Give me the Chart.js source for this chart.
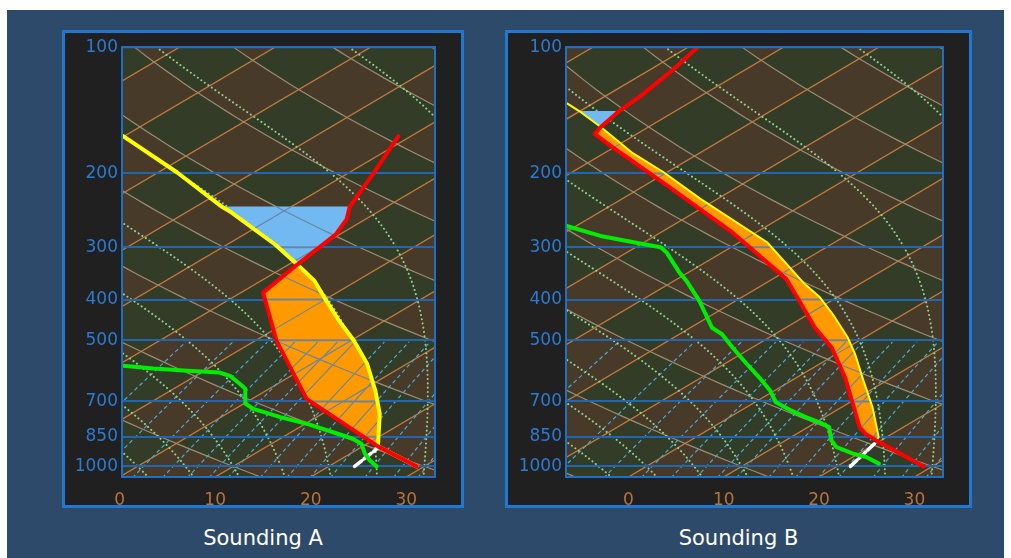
<!DOCTYPE html>
<html>
<head>
<meta charset="utf-8">
<script src="https://cdn.jsdelivr.net/npm/chart.js@4.4.1/dist/chart.umd.min.js"></script>
<style>
  html, body { margin: 0; padding: 0; background: #fff; }
  #bg { position: absolute; left: 7px; top: 10px; width: 997px; height: 548px; background: #2e4a6a; }
  .panel { position: absolute; top: 30px; height: 472px; border: 3px solid #1f78d2; background: #202020; }
  #pA { left: 62px; width: 396px; }
  #pB { left: 505px; width: 461px; }
  .panel canvas { position: absolute; left: 0; top: 0; }
  .title { position: absolute; top: 526px; text-align: center; color: #fff; font: 21px "DejaVu Sans", sans-serif; }
</style>
</head>
<body>
<div id="bg"></div>
<div class="panel" id="pA"><canvas id="chartA" width="396" height="472"></canvas></div>
<div class="panel" id="pB"><canvas id="chartB" width="461" height="472"></canvas></div>
<div class="title" style="left:62px;width:402px">Sounding A</div>
<div class="title" style="left:505px;width:467px">Sounding B</div>
<script>
// axis ticks
const tickPressures = [100, 200, 300, 400, 500, 700, 850, 1000];
const tickTemps = [0, 10, 20, 30];

// Sounding A (pressure hPa, temperature C)
const envPresA = [1000, 896, 690, 501, 385, 330, 280, 257, 240, 199, 163];
const envTempA = [29.2, 21.6, 5.7, -7.8, -17.7, -19.1, -20.4, -22.0, -23.9, -27.4, -31.3];
const parcelPresA = [1000, 896, 749, 659, 569, 501, 450, 403, 361, 330, 296, 248, 240, 199, 163];
const parcelTempA = [29.2, 21.6, 16.0, 11.4, 5.8, 0.3, -4.7, -9.6, -14.4, -19.1, -24.9, -35.2, -37.3, -48.0, -60.1];
const dewPresA = [1000, 967, 932, 883, 859, 829, 791, 763, 729, 709, 653, 636, 608, 597, 591, 584, 575];
const dewTempA = [25.0, 23.2, 21.5, 19.4, 17.6, 14.4, 10.1, 6.2, 1.9, 0.2, -2.5, -3.9, -6.4, -8.1, -11.8, -15.7, -19.4];
const mixPresA = [1000, 905];
const mixTempA = [22.7, 21.9];
const lclA = 896, crossA = 330, capA = 240;

// Sounding B
const envPresB = [1000, 867, 836, 806, 697, 614, 521, 467, 403, 357, 277, 214, 172, 161, 155, 142, 131, 113, 100];
const envTempB = [29.1, 19.5, 17.2, 15.4, 9.9, 5.1, -1.6, -6.9, -13.3, -18.6, -32.4, -47.6, -60.6, -64.4, -65.0, -65.9, -66.3, -67.6, -69.0];
const parcelPresB = [1000, 867, 852, 722, 625, 540, 492, 433, 395, 364, 292, 230, 199, 179, 155, 142, 136];
const parcelTempB = [29.1, 19.5, 19.2, 13.2, 7.6, 2.0, -1.8, -7.5, -11.8, -16.2, -27.1, -41.8, -50.3, -57.0, -65.0, -70.1, -72.8];
const dewPresB = [985, 950, 932, 899, 867, 806, 791, 763, 734, 703, 659, 614, 569, 521, 484, 467, 403, 361, 345, 309, 300, 292, 282, 267];
const dewTempB = [23.9, 21.4, 19.4, 16.5, 14.8, 12.2, 10.9, 8.0, 5.1, 2.2, -0.5, -3.9, -7.7, -12.0, -15.5, -17.7, -23.8, -28.7, -30.9, -35.8, -37.4, -41.1, -45.7, -51.0];
const mixPresB = [1000, 875];
const mixTempB = [21.4, 19.8];
const lclB = 867, crossB = 155, capB = 142;

// skew-T geometry
const SKEW = 32.3;      // x shift in C per unit of ln(p)
const PBASE = 1060;     // pressure at bottom edge
const KAPPA = 0.2857;

const GREEN = [51, 60, 38];
const BROWN = [72, 58, 41];

function skewX(t, p) { return t + SKEW * Math.log(PBASE / p); }

function toPoints(pres, temp) {
  return pres.map((p, i) => ({ x: skewX(temp[i], p), y: p }));
}

// closed area between parcel and environment between two levels
function areaPoints(pp, pt, ep, et, pLow, pHigh) {
  const side1 = [], side2 = [];
  pp.forEach((p, i) => { if (p <= pLow && p >= pHigh) side1.push({ x: skewX(pt[i], p), y: p }); });
  ep.forEach((p, i) => { if (p <= pLow && p >= pHigh) side2.push({ x: skewX(et[i], p), y: p }); });
  return side1.concat(side2.reverse());
}

// background reference lines (isotherms, adiabats, mixing ratio)
function satVap(tc) { return 6.112 * Math.exp(17.67 * tc / (tc + 243.5)); }

function moistRate(T, p) {
  const eps = 0.622, Rd = 287.04, cp = 1005.7, Lv = 2.501e6;
  const es = satVap(T - 273.15);
  const rs = eps * es / (p - es);
  return (Rd * T + Lv * rs) / (cp + Lv * Lv * rs * eps / (Rd * T * T)) / p;
}

function moistLine(tw) {
  const up = [];
  let T = tw + 273.15;
  for (let p = 1000; p >= 95; p -= 5) {
    up.push([T - 273.15, p]);
    const k1 = moistRate(T, p);
    const k2 = moistRate(T - 2.5 * k1, p - 2.5);
    T -= 5 * k2;
  }
  const down = [];
  T = tw + 273.15;
  for (let p = 1000; p <= 1065; p += 5) {
    down.push([T - 273.15, p]);
    T += 5 * moistRate(T, p);
  }
  return down.reverse().concat(up);
}

function buildRefLines() {
  const iso = [], dry = [], moist = [], mix = [];
  for (let t = -140; t <= 40; t += 10) iso.push([[t, 1065], [t, 95]]);
  for (let th = -50; th <= 250; th += 20) {
    const line = [];
    for (let p = 1065; p >= 95; p *= 0.97) line.push([(th + 273.15) * Math.pow(p / 1000, KAPPA) - 273.15, p]);
    dry.push(line);
  }
  for (let tw = -15; tw <= 40; tw += 5) moist.push(moistLine(tw));
  [1, 2, 3, 4, 5, 6, 7, 8, 10, 12, 14, 16, 20, 24, 28, 32].forEach(r => {
    const line = [];
    for (let p = 1065; p >= 500; p -= 10) {
      const e = (r / 1000) * p / (0.622 + r / 1000);
      const l = Math.log(e / 6.112);
      line.push([243.5 * l / (17.67 - l), p]);
    }
    mix.push(line);
  });
  return { iso, dry, moist, mix };
}

const ref = buildRefLines();

function strokeCurves(ctx, chart, curves) {
  const xs = chart.scales.x, ys = chart.scales.y;
  curves.forEach(c => {
    ctx.beginPath();
    c.forEach(([t, p], i) => {
      const px = xs.getPixelForValue(skewX(t, p)), py = ys.getPixelForValue(p);
      if (i) ctx.lineTo(px, py); else ctx.moveTo(px, py);
    });
    ctx.stroke();
  });
}

const skewPlugin = {
  id: 'skewBackground',
  beforeDraw(chart) {
    const { ctx, chartArea: a } = chart;
    const xs = chart.scales.x, ys = chart.scales.y;
    const x0 = Math.round(a.left), y0 = Math.round(a.top);
    const w = Math.round(a.right) - x0, h = Math.round(a.bottom) - y0;
    const img = ctx.createImageData(w, h);
    const colX = [];
    for (let i = 0; i < w; i++) colX.push(xs.getValueForPixel(x0 + i + 0.5));
    for (let j = 0; j < h; j++) {
      const p = ys.getValueForPixel(y0 + j + 0.5);
      const sk = SKEW * Math.log(PBASE / p), fac = Math.pow(1000 / p, KAPPA);
      for (let i = 0; i < w; i++) {
        const t = colX[i] - sk;
        const th = (t + 273.15) * fac - 273.15;
        const k = Math.floor(t / 10) + Math.floor((th - 10) / 20);
        const c = (k & 1) ? BROWN : GREEN;
        const o = (j * w + i) * 4;
        img.data[o] = c[0]; img.data[o + 1] = c[1]; img.data[o + 2] = c[2]; img.data[o + 3] = 255;
      }
    }
    ctx.putImageData(img, x0, y0);

    ctx.save();
    ctx.beginPath();
    ctx.rect(a.left, a.top, a.right - a.left, a.bottom - a.top);
    ctx.clip();
    ctx.lineWidth = 1.3;
    ctx.strokeStyle = '#c27a3e';
    strokeCurves(ctx, chart, ref.iso);
    ctx.lineWidth = 1.2;
    ctx.strokeStyle = '#9c8c72';
    strokeCurves(ctx, chart, ref.dry);
    ctx.lineWidth = 1.2;
    ctx.strokeStyle = '#49a9d6';
    ctx.setLineDash([4, 3]);
    strokeCurves(ctx, chart, ref.mix);
    ctx.strokeStyle = '#8fd08f';
    ctx.lineWidth = 2;
    ctx.lineCap = 'round';
    ctx.setLineDash([0.1, 4.2]);
    strokeCurves(ctx, chart, ref.moist);
    ctx.restore();
  },
  afterDatasetDraw(chart, args) {
    const ds = chart.data.datasets[args.index];
    if (!ds.isArea) return;
    const { ctx, chartArea: a } = chart;
    const pts = args.meta.data;
    ctx.save();
    ctx.beginPath();
    pts.forEach((pt, i) => { if (i) ctx.lineTo(pt.x, pt.y); else ctx.moveTo(pt.x, pt.y); });
    ctx.closePath();
    ctx.clip();
    ctx.strokeStyle = '#6a86a3';
    ctx.lineWidth = 1.2;
    strokeCurves(ctx, chart, ref.iso);
    strokeCurves(ctx, chart, ref.dry);
    strokeCurves(ctx, chart, ref.mix);
    ctx.lineWidth = 2;
    tickPressures.forEach(p => {
      const y = chart.scales.y.getPixelForValue(p);
      ctx.beginPath(); ctx.moveTo(a.left, y); ctx.lineTo(a.right, y); ctx.stroke();
    });
    ctx.restore();
  },
  afterDraw(chart) {
    const { ctx, chartArea: a } = chart;
    ctx.save();
    ctx.strokeStyle = '#1f6fc4';
    ctx.lineWidth = 2;
    ctx.strokeRect(a.left, a.top, a.right - a.left, a.bottom - a.top);
    ctx.restore();
  }
};

function makeChart(id, s) {
  const areaStyle = { showLine: true, pointRadius: 0, borderWidth: 1, borderColor: 'rgba(0,0,0,0)', fill: 'shape', order: 10, isArea: true };
  const lineStyle = { showLine: true, pointRadius: 0, fill: false, borderCapStyle: 'round', borderJoinStyle: 'round' };
  return new Chart(document.getElementById(id), {
    type: 'scatter',
    data: {
      datasets: [
        Object.assign({ data: areaPoints(s.pp, s.pt, s.ep, s.et, s.lcl, s.cross), backgroundColor: '#ff9900' }, areaStyle),
        Object.assign({ data: areaPoints(s.pp, s.pt, s.ep, s.et, s.cross, s.cap), backgroundColor: '#72b9f2' }, areaStyle),
        Object.assign({ data: toPoints(s.mp, s.mt), borderColor: '#ffffff', borderWidth: 3.5, borderDash: [9, 3], order: 5 }, lineStyle),
        Object.assign({ data: toPoints(s.dp, s.dt), borderColor: '#00ee00', borderWidth: 4, order: 4 }, lineStyle),
        Object.assign({ data: toPoints(s.pp, s.pt), borderColor: '#ffff00', borderWidth: s.parcelWidth, order: 3 }, lineStyle),
        Object.assign({ data: toPoints(s.ep, s.et), borderColor: '#ff0000', borderWidth: 4, order: 2 }, lineStyle)
      ]
    },
    options: {
      responsive: false,
      devicePixelRatio: 1,
      animation: false,
      events: [],
      layout: { padding: { top: 13, right: 26, left: 0, bottom: 0 } },
      plugins: { legend: { display: false }, tooltip: { enabled: false } },
      scales: {
        x: {
          type: 'linear', min: s.xmin, max: 33,
          afterBuildTicks: sc => { sc.ticks = tickTemps.map(v => ({ value: v })); },
          afterFit: sc => { sc.height = 28; },
          grid: { display: false }, border: { display: false },
          ticks: { color: '#b8733a', font: { size: 17, family: '"DejaVu Sans"' }, padding: 5, maxRotation: 0, autoSkip: false }
        },
        y: {
          type: 'logarithmic', reverse: true, min: 100, max: PBASE,
          afterBuildTicks: sc => { sc.ticks = tickPressures.map(v => ({ value: v })); },
          afterFit: sc => { sc.width = s.yWidth; },
          grid: { color: '#2166b3', lineWidth: 2, drawTicks: false }, border: { display: false },
          ticks: { color: '#2b7bd3', font: { size: 17, family: '"DejaVu Sans"' }, padding: 4, autoSkip: false, callback: v => String(v) }
        }
      }
    },
    plugins: [skewPlugin]
  });
}

makeChart('chartA', {
  ep: envPresA, et: envTempA, pp: parcelPresA, pt: parcelTempA,
  dp: dewPresA, dt: dewTempA, mp: mixPresA, mt: mixTempA,
  lcl: lclA, cross: crossA, cap: capA, xmin: 0.25, yWidth: 57, parcelWidth: 4
});
makeChart('chartB', {
  ep: envPresB, et: envTempB, pp: parcelPresB, pt: parcelTempB,
  dp: dewPresB, dt: dewTempB, mp: mixPresB, mt: mixTempB,
  lcl: lclB, cross: crossB, cap: capB, xmin: -6.55, yWidth: 58, parcelWidth: 2
});
</script>
</body>
</html>
